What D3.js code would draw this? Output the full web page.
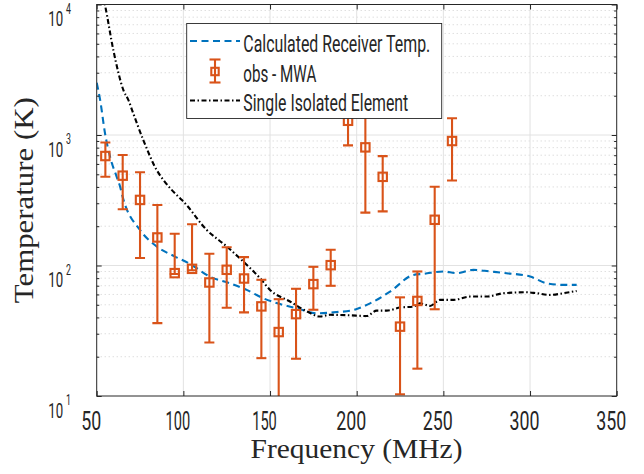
<!DOCTYPE html>
<html><head><meta charset="utf-8">
<script src="https://cdn.jsdelivr.net/npm/d3@7"></script>
<style>html,body{margin:0;padding:0;background:#fff;} svg{display:block;}</style>
</head><body>
<svg id="chart" width="644" height="474"></svg>
<script>
// ---- data ----
const obsFreq = [55,65,75,85,95,105,115,125,135,145,155,165,175,185,195,205,215,225,235,245,255];
const obsTemp = [690,488,318,164,87.4,94.3,74.1,92.7,79.5,48.6,30.9,42.4,72,100.6,1285,804,478,34,53.5,224,899];
const obsLow  = [479,270,114,36.2,86,92,25.7,47.4,43.7,19.5,8,19.3,45.8,69.9,832,254,260,10.3,16.2,46.2,448];
const obsHigh = [877,702,518,291,175,207,123,138,116,77.7,55.2,66.3,97.7,132,2500,2000,689,57,90,401,1343];

const rxFreq = [50,52,54.8,57.7,61.5,63.5,65,75,84.6,95.2,103.8,115.4,126.9,136.5,146.2,153.8,165.4,176.9,188.5,196,200,207.7,219.2,232.7,238.5,250,257.7,267.3,276.9,286.5,300,309.6,319.2,326.9];
const rxTemp = [2510,1850,1030,681,479,402,335,187,140,117,103,82,73,65,56,51.5,47,43,44,45,46.5,51.3,63,84.7,86.3,90,87.3,92.6,90,87.3,82.3,73.1,71,71];

const elFreq = [52,54.8,59.6,65.4,68.3,71.1,76.9,84.6,88.5,98.1,100,113.5,125,134.6,144.2,150,161.5,171.2,178.8,184.6,196.2,205.8,211.5,217.3,225,232.7,236.5,242.3,248.1,255.8,265.4,275,284.6,298,303.8,311.5,319.2,326.9];
const elTemp = [14000,9860,4470,2210,1850,1463,914,539,452,327,309,187,140,107,80,65,53,44.5,40.7,41.9,41.5,41,45.1,45.1,47.6,48.4,51.3,49,54.5,54.5,57.8,57.8,61.3,62.4,61.3,59.5,61.3,63.8];

const xTicks = [50,100,150,200,250,300,350];
const yTicks = [10,100,1000,10000];
const yExp = ["1","2","3","4"];
const legendLabels = ["Calculated Receiver Temp.","obs - MWA","Single Isolated Element"];
const xTitle = "Frequency (MHz)";
const yTitle = "Temperature (K)";

// ---- layout ----
const W=644,H=474,L=96.7,R=616.7,T=4.5,B=396;
const BLUE="#0072BD", ORANGE="#D95319", AX="#262626";
const svg = d3.select("#chart");
svg.append("rect").attr("width",W).attr("height",H).attr("fill","#fff");
const x = d3.scaleLinear().domain([50,350]).range([L,R]);
const y = d3.scaleLog().domain([10,10000]).range([B,T]);
const minorY = [];
for (const d of [10,100,1000]) for (let k=2;k<=9;k++) minorY.push(d*k);

// grid
const grid = svg.append("g");
grid.selectAll("line.ymin").data(minorY).join("line").attr("class","ymin")
  .attr("x1",L).attr("x2",R).attr("y1",d=>y(d)).attr("y2",d=>y(d))
  .attr("stroke","#c4c4c4").attr("stroke-width",0.8).attr("stroke-dasharray","1,3");
grid.selectAll("line.ymaj").data(yTicks.slice(1,-1)).join("line").attr("class","ymaj")
  .attr("x1",L).attr("x2",R).attr("y1",d=>y(d)).attr("y2",d=>y(d))
  .attr("stroke","#e2e2e2").attr("stroke-width",1);
grid.selectAll("line.xmaj").data(xTicks.slice(1,-1)).join("line").attr("class","xmaj")
  .attr("x1",d=>x(d)).attr("x2",d=>x(d)).attr("y1",T).attr("y2",B)
  .attr("stroke","#e2e2e2").attr("stroke-width",1);

// data
svg.append("clipPath").attr("id","pc").append("rect")
  .attr("x",L).attr("y",T).attr("width",R-L).attr("height",B-T);
const plot = svg.append("g").attr("clip-path","url(#pc)");
const line = d3.line().x(d=>x(d[0])).y(d=>y(d[1])).curve(d3.curveMonotoneX);
plot.append("path").datum(d3.zip(rxFreq,rxTemp)).attr("d",line)
  .attr("fill","none").attr("stroke",BLUE).attr("stroke-width",2.1).attr("stroke-dasharray","7,4.5");
plot.append("path").datum(d3.zip(elFreq,elTemp)).attr("d",line)
  .attr("fill","none").attr("stroke","#000").attr("stroke-width",2.1).attr("stroke-dasharray","5,2.5,1.5,2.5");

const obs = obsFreq.map((f,i)=>({f, t:obsTemp[i], lo:obsLow[i], hi:obsHigh[i]}));
const eb = plot.selectAll("g.eb").data(obs).join("g").attr("class","eb")
  .attr("stroke",ORANGE).attr("stroke-width",2.1).attr("fill","none");
eb.append("line").attr("x1",d=>x(d.f)).attr("x2",d=>x(d.f)).attr("y1",d=>y(d.lo)).attr("y2",d=>y(d.hi));
eb.append("line").attr("x1",d=>x(d.f)-5).attr("x2",d=>x(d.f)+5).attr("y1",d=>y(d.lo)).attr("y2",d=>y(d.lo));
eb.append("line").attr("x1",d=>x(d.f)-5).attr("x2",d=>x(d.f)+5).attr("y1",d=>y(d.hi)).attr("y2",d=>y(d.hi));
eb.append("rect").attr("x",d=>x(d.f)-4.2).attr("y",d=>y(d.t)-4.2).attr("width",8.4).attr("height",8.4);

// axes box & ticks
svg.append("rect").attr("x",L).attr("y",T).attr("width",R-L).attr("height",B-T)
  .attr("fill","none").attr("stroke",AX).attr("stroke-width",1);
function ax(gen, tx, ty){
  const a = svg.append("g").attr("transform",`translate(${tx},${ty})`).attr("color",AX).call(gen);
  a.select(".domain").remove(); a.selectAll("text").remove();
}
ax(d3.axisBottom(x).tickValues(xTicks).tickSize(-5).tickFormat(""),0,B);
ax(d3.axisTop(x).tickValues(xTicks).tickSize(-5).tickFormat(""),0,T);
ax(d3.axisLeft(y).tickValues(yTicks).tickSize(-5).tickFormat(""),L,0);
ax(d3.axisRight(y).tickValues(yTicks).tickSize(-5).tickFormat(""),R,0);
ax(d3.axisLeft(y).tickValues(minorY).tickSize(-2.6).tickFormat(""),L,0);
ax(d3.axisRight(y).tickValues(minorY).tickSize(-2.6).tickFormat(""),R,0);

function txt(parent, str, x0, yb, size, len, family){
  return parent.append("text").attr("x",x0).attr("y",yb).attr("font-family",family)
    .attr("font-size",size).attr("fill",AX).attr("textLength",len)
    .attr("lengthAdjust","spacingAndGlyphs").text(str);
}
const COND = "Roboto, 'DejaVu Sans', sans-serif";
const SERIF = "'Liberation Serif', 'DejaVu Serif', serif";
// x tick labels
xTicks.forEach(v=>{
  const s = String(v);
  const w = [...s].reduce((a,c)=>a+(c==="1"?4.6:10),0);
  txt(svg, s, x(v)-5.5-w/2, 430, 25, w, COND);
});
// y tick labels: "10" with superscript exponent, in one text element, horizontally condensed
yTicks.forEach((v,i)=>{
  const t = svg.append("text")
    .attr("transform",`translate(48.3,${y(v)+21.5}) scale(0.63,1)`)
    .attr("font-family",COND).attr("fill",AX);
  t.append("tspan").attr("font-size",21).text("10");
  t.append("tspan").attr("font-size",14).attr("dx",4.5).attr("dy",-12.5).text(yExp[i]);
});
// titles
txt(svg, xTitle, 250.5, 458, 27, 212, SERIF);
svg.append("text").attr("transform",`translate(33,${(T+B)/2+103}) rotate(-90)`)
  .attr("font-family",SERIF).attr("font-size",27).attr("fill",AX)
  .attr("textLength",206).attr("lengthAdjust","spacingAndGlyphs").text(yTitle);

// legend
const lg = svg.append("g");
lg.append("rect").attr("x",186.7).attr("y",23.5).attr("width",255).attr("height",95)
  .attr("fill","#fff").attr("stroke",AX).attr("stroke-width",0.9);
lg.append("line").attr("x1",190).attr("x2",240).attr("y1",41).attr("y2",41)
  .attr("stroke",BLUE).attr("stroke-width",2.1).attr("stroke-dasharray","7,4.5");
lg.append("line").attr("x1",190).attr("x2",240).attr("y1",100.5).attr("y2",100.5)
  .attr("stroke","#000").attr("stroke-width",2.1).attr("stroke-dasharray","5,2.5,1.5,2.5");
const lm = lg.append("g").attr("stroke",ORANGE).attr("stroke-width",2.1).attr("fill","none");
lm.append("line").attr("x1",215).attr("x2",215).attr("y1",59.5).attr("y2",82.5);
lm.append("line").attr("x1",209.5).attr("x2",220.5).attr("y1",59.5).attr("y2",59.5);
lm.append("line").attr("x1",209.5).attr("x2",220.5).attr("y1",82.5).attr("y2",82.5);
lm.append("rect").attr("x",211.3).attr("y",67.8).attr("width",7.4).attr("height",7.4);
const lens = [187,73,165], bases = [51.7,81.7,110.7];
legendLabels.forEach((s,i)=> txt(lg, s, 243.3, bases[i], 23, lens[i], COND));
</script>
</body></html>
